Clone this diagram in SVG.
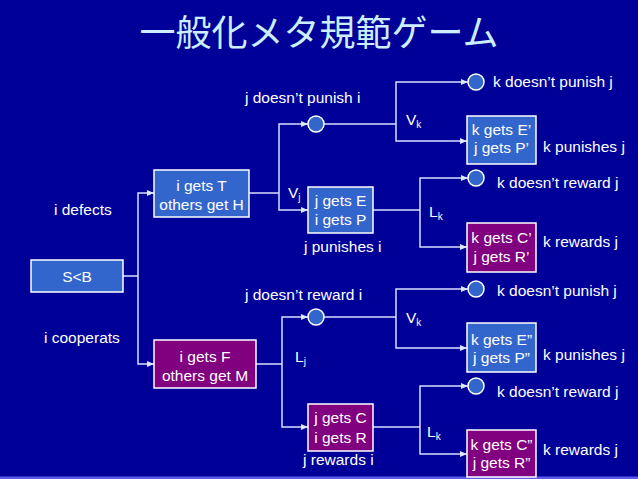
<svg xmlns="http://www.w3.org/2000/svg" width="638" height="479" viewBox="0 0 638 479">
<defs>
<marker id="ah" markerUnits="userSpaceOnUse" markerWidth="7" markerHeight="6" refX="7" refY="3" orient="auto">
<path d="M0,0 L7,3 L0,6 z" fill="#E0E6FF"/>
</marker>
<style>
.t{font-family:"Liberation Sans",Arial,sans-serif;font-size:15.5px;fill:#FFFFFF}
.m{text-anchor:middle}
.sub{font-size:10px}
.blue{fill:#3366CC;stroke:#FFFFFF;stroke-width:1.5}
.purp{fill:#800080;stroke:#FFFFFF;stroke-width:1.5}
.c{fill:none;stroke:#D8DEFF;stroke-width:1.5}
.a{marker-end:url(#ah)}
</style>
</defs>
<rect x="0" y="0" width="638" height="479" fill="#000099"/>
<rect x="0" y="476.5" width="638" height="2.5" fill="#5C5CF0"/>
<text x="319" y="46" text-anchor="middle" style="font-family:'Noto Sans CJK JP','Noto Sans CJK SC',sans-serif;font-size:36px;fill:#CCEEFF">一般化メタ規範ゲーム</text>

<g id="connectors">
<path class="c" d="M123,276 H138"/>
<path class="c a" d="M138,276 V193 H154"/>
<path class="c a" d="M138,276 V364 H154"/>
<path class="c" d="M249,193 H279"/>
<path class="c a" d="M279,193 V124 H308"/>
<path class="c a" d="M279,193 V210 H308"/>
<path class="c" d="M324,124 H396"/>
<path class="c a" d="M396,124 V82 H468"/>
<path class="c a" d="M396,124 V141 H467"/>
<path class="c" d="M373,210 H420"/>
<path class="c a" d="M420,210 V178 H468"/>
<path class="c a" d="M420,210 V247 H467"/>
<path class="c" d="M256,364 H282"/>
<path class="c a" d="M282,364 V317 H308"/>
<path class="c a" d="M282,364 V427 H308"/>
<path class="c" d="M324,317 H396"/>
<path class="c a" d="M396,317 V289 H468"/>
<path class="c a" d="M396,317 V348 H467"/>
<path class="c" d="M373,427 H420"/>
<path class="c a" d="M420,427 V386 H468"/>
<path class="c a" d="M420,427 V454 H467"/>
</g>

<g id="root">
<rect class="blue" x="31" y="260" width="92" height="32"/>
<text class="t m" x="77" y="282">S&lt;B</text>
</g>
<g id="defect">
<rect class="blue" x="154" y="170" width="95" height="47"/>
<text class="t m" x="201.5" y="191">i gets T</text>
<text class="t m" x="201.5" y="210">others get H</text>
</g>
<g id="cooperate">
<rect class="purp" x="154" y="340" width="102" height="48"/>
<text class="t m" x="205" y="362">i gets F</text>
<text class="t m" x="205" y="381">others get M</text>
</g>
<g id="n1">
<circle class="blue" cx="316" cy="124" r="8"/>
</g>
<g id="jpunish">
<rect class="blue" x="308" y="187" width="65" height="46"/>
<text class="t m" x="340.5" y="206">j gets E</text>
<text class="t m" x="340.5" y="225">i gets P</text>
</g>
<g id="n2">
<circle class="blue" cx="476" cy="82" r="8"/>
</g>
<g id="kpunish1">
<rect class="blue" x="467" y="116" width="69" height="48"/>
<text class="t m" x="501.5" y="135">k gets E’</text>
<text class="t m" x="501.5" y="153">j gets P’</text>
</g>
<g id="n3">
<circle class="blue" cx="476" cy="178" r="8"/>
</g>
<g id="kreward1">
<rect class="purp" x="467" y="223" width="69" height="49"/>
<text class="t m" x="501.5" y="243">k gets C’</text>
<text class="t m" x="501.5" y="262">j gets R’</text>
</g>
<g id="n4">
<circle class="blue" cx="316" cy="317" r="8"/>
</g>
<g id="jreward">
<rect class="purp" x="308" y="404" width="65" height="47"/>
<text class="t m" x="340.5" y="423">j gets C</text>
<text class="t m" x="340.5" y="443">i gets R</text>
</g>
<g id="n5">
<circle class="blue" cx="476" cy="289" r="8"/>
</g>
<g id="kpunish2">
<rect class="blue" x="467" y="323" width="69" height="49"/>
<text class="t m" x="501.5" y="345">k gets E”</text>
<text class="t m" x="501.5" y="363">j gets P”</text>
</g>
<g id="n6">
<circle class="blue" cx="476" cy="386" r="8"/>
</g>
<g id="kreward2">
<rect class="purp" x="467" y="430" width="69" height="47"/>
<text class="t m" x="501.5" y="450">k gets C”</text>
<text class="t m" x="501.5" y="468">j gets R”</text>
</g>

<g id="labels">
<text class="t" x="54" y="215">i defects</text>
<text class="t" x="44" y="343">i cooperats</text>
<text class="t" x="245" y="103">j doesn’t punish i</text>
<text class="t" x="304" y="252">j punishes i</text>
<text class="t" x="245" y="300">j doesn’t reward i</text>
<text class="t" x="303" y="465">j rewards i</text>
<text class="t" x="493" y="87">k doesn’t punish j</text>
<text class="t" x="543" y="152">k punishes j</text>
<text class="t" x="497" y="188">k doesn’t reward j</text>
<text class="t" x="543" y="247">k rewards j</text>
<text class="t" x="497" y="296">k doesn’t punish j</text>
<text class="t" x="543" y="360">k punishes j</text>
<text class="t" x="497" y="397">k doesn’t reward j</text>
<text class="t" x="543" y="455">k rewards j</text>
<text class="t" x="288" y="198">V<tspan class="sub" dy="3">j</tspan></text>
<text class="t" x="406" y="125">V<tspan class="sub" dy="3">k</tspan></text>
<text class="t" x="429" y="217">L<tspan class="sub" dy="3">k</tspan></text>
<text class="t" x="406" y="323">V<tspan class="sub" dy="3">k</tspan></text>
<text class="t" x="295" y="362">L<tspan class="sub" dy="3">j</tspan></text>
<text class="t" x="427" y="437">L<tspan class="sub" dy="3">k</tspan></text>
</g>
</svg>
